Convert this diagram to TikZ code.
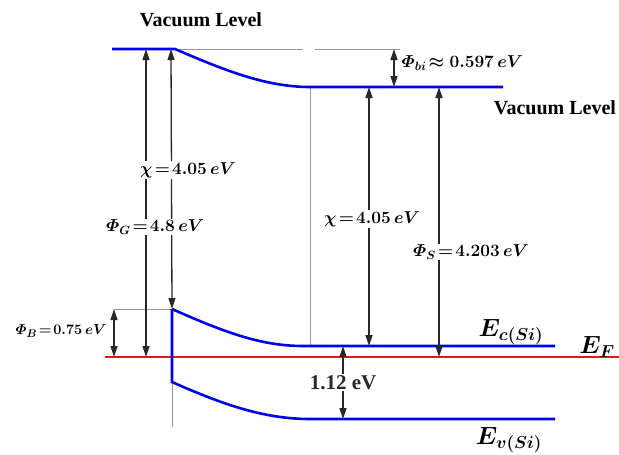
\documentclass[tikz,border=0pt]{standalone}
\usepackage{amsmath}
\usepackage{fontspec}
\setmainfont{Liberation Serif}[BoldFont={Liberation Serif Bold}]
\usepackage{tikz}
\usetikzlibrary{arrows.meta, positioning, calc}
\definecolor{bandblue}{RGB}{0,0,240}
\definecolor{fermired}{RGB}{235,20,20}
\definecolor{guidegray}{RGB}{150,150,150}
\definecolor{arrowgray}{RGB}{40,40,40}

\begin{document}
\begin{tikzpicture}[
        x=1pt, y=-1pt,
        band/.style={bandblue, line width=2.6pt},
        fermi/.style={fermired, line width=2pt},
        guide/.style={guidegray, line width=1pt},
        gap/.style={{Triangle[length=11pt,width=7pt]}-{Triangle[length=11pt,width=7pt]}, arrowgray, line width=1.3pt},
        val/.style={fill=white, inner sep=1pt, font=\fontsize{18}{20}\selectfont\boldmath},
        title/.style={font=\fontsize{20}{23}\selectfont\bfseries},
        level/.style={font=\fontsize{24}{26}\selectfont\boldmath}
    ]
        \useasboundingbox (0,0) rectangle (619,455);

        % gate side
        \coordinate (gvac)  at (112,49);
        \coordinate (gbend) at (175,49);
        \coordinate (gtop)  at (172,309);
        \coordinate (gbot)  at (172,382);
        \coordinate (gfoot) at (172,427);
        \coordinate (bleft) at (114,309);
        % silicon side
        \coordinate (svac)  at (310,87);
        \coordinate (svacR) at (503,87);
        \coordinate (sec)   at (303,346);
        \coordinate (secR)  at (555,346);
        \coordinate (sev)   at (310,419);
        \coordinate (sevR)  at (555,419);
        \coordinate (efL)   at (105,357);
        \coordinate (efR)   at (619,357);

        \draw[guide] (gbend) -- (303,49);
        \draw[guide] (315,49) -- (400,49);
        \draw[guide] (svac) -- (310,346);
        \draw[guide] (gtop) -- (gfoot);
        \draw[guide] (bleft) -- (gtop);

        \draw[fermi] (efL) -- (efR);
        \draw[band] (gvac) -- (gbend) .. controls (228,72) and (268,87) .. (svac) -- (svacR);
        \draw[band] (gtop) .. controls (226,333) and (262,346) .. (sec) -- (secR);
        \draw[band] (gtop) -- (gbot) .. controls (226,406) and (266,419) .. (sev) -- (sevR);

        \draw[gap] (146,49) -- (146,357);
        \draw[gap] (171,49) -- (gtop);
        \node[val] (chil) at (188,170) {$\chi\!=\!4.05\,eV$};
        \node[val] (phig) at (155,227) {$\varPhi_G\!=\!4.8\,eV$};
        \draw[gap] (bleft) -- (114,357);
        \node[font=\fontsize{15}{17}\selectfont\boldmath, left] (phib) at (110,331) {$\varPhi_B\!=\!0.75\,eV$};

        \draw[gap] (394,49) -- (394,87);
        \node[font=\fontsize{18}{20}\selectfont\boldmath, right] (phibi) at (398,63) {$\varPhi_{bi}\!\approx 0.597\,eV$};
        \draw[gap] (369,87) -- (369,346);
        \node[val] (chir) at (372,219) {$\chi\!=\!4.05\,eV$};
        \draw[gap] (439,87) -- (439,357);
        \node[val] (phis) at (471,252) {$\varPhi_S\!=\!4.203\,eV$};
        \draw[gap] (343,346) -- node[val, font=\fontsize{21}{23}\selectfont\bfseries] (egap) {1.12 eV} (343,419);

        \node[title] (vacl) at (201,20) {Vacuum Level};
        \node[title] (vacr) at (555,108) {Vacuum Level};
        \node[level] (ec) at (511,332) {$E_{c(Si)}$};
        \node[level] (ef) at (597,347) {$E_F$};
        \node[level] (ev) at (509,440) {$E_{v(Si)}$};
    \end{tikzpicture}
\end{document}
